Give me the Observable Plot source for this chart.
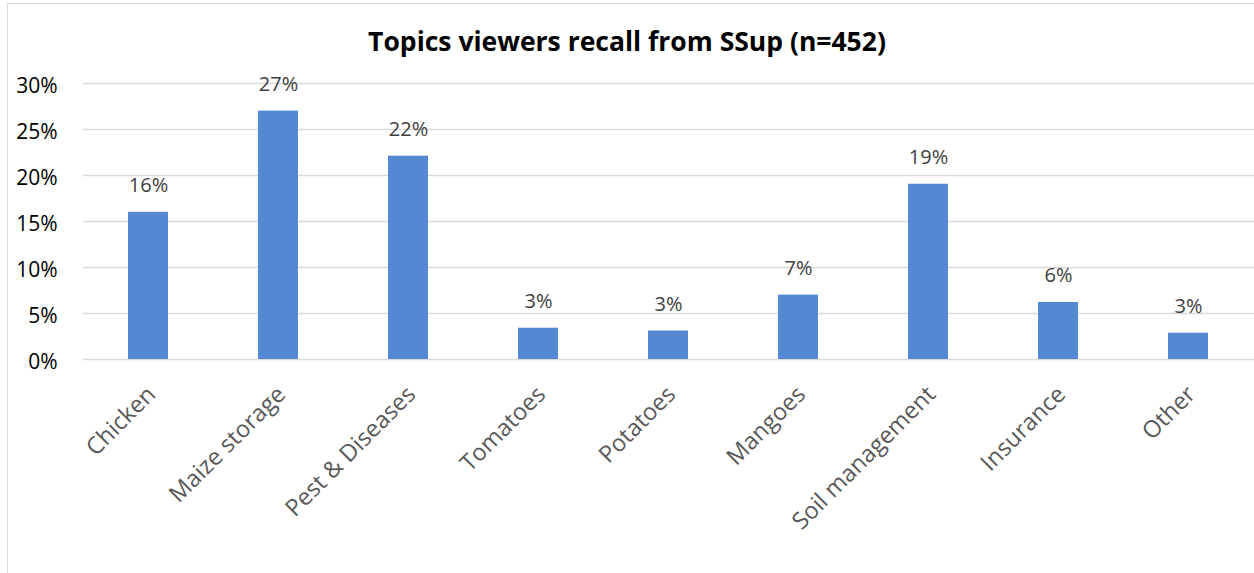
<!DOCTYPE html>
<html>
<head>
<meta charset="utf-8">
<script src="https://cdn.jsdelivr.net/npm/d3@7"></script>
<script src="https://cdn.jsdelivr.net/npm/@observablehq/plot@0.6"></script>
<style>
  html, body { margin: 0; padding: 0; background: #fff; }
  body { width: 1254px; height: 573px; position: relative; overflow: hidden; font-family: "Open Sans", sans-serif; }
  #frame { position: absolute; left: 7px; top: 3px; width: 1300px; height: 600px; border-left: 1px solid #d9d9d9; border-top: 1px solid #d9d9d9; pointer-events: none; }
  #title { position: absolute; left: 0; top: 28px; width: 1254px; height: 27px; line-height: 1; text-align: center; font-weight: 700; font-size: 26.5px; color: #000; white-space: nowrap; }
  #chart { position: absolute; left: 0; top: 70px; }
</style>
</head>
<body>
<div id="frame"></div>
<div id="title">Topics viewers recall from SSup (n=452)</div>
<div id="chart"></div>
<script>
const categories = ["Chicken", "Maize storage", "Pest & Diseases", "Tomatoes", "Potatoes", "Mangoes", "Soil management", "Insurance", "Other"];
const values = [16.0, 27.0, 22.1, 3.4, 3.1, 7.0, 19.05, 6.2, 2.86];
const yTicks = [0, 5, 10, 15, 20, 25, 30];

const data = categories.map((c, i) => ({category: c, value: values[i], label: Math.round(values[i]) + "%"}));

const chart = Plot.plot({
  width: 1254,
  height: 503,
  marginLeft: 83,
  marginRight: 0,
  marginTop: 13,
  marginBottom: 214,
  style: {fontFamily: "'Open Sans', sans-serif", background: "transparent"},
  x: {domain: categories, paddingInner: 0.69, paddingOuter: 0.345, label: null, axis: null},
  y: {domain: [0, 30], label: null, axis: null},
  marks: [
    Plot.gridY(yTicks, {stroke: "#d9d9d9", strokeOpacity: 1, strokeWidth: 1.5}),
    Plot.barY(data, {x: "category", y: "value", fill: "#5588d3"}),
    Plot.text(data, {x: "category", y: "value", text: "label", dy: -20, lineAnchor: "bottom", fontSize: 20, fill: "#404040"}),
    Plot.axisY(yTicks, {tickSize: 0, tickPadding: 26, dy: 3, fontSize: 21, fill: "#000", tickFormat: d => d + "%", label: null}),
    Plot.text(data, {x: "category", y: () => 0, text: "category", rotate: -45, textAnchor: "end", lineAnchor: "middle", dx: 3, dy: 31, fontSize: 23.5, fill: "#595959"})
  ]
});
document.getElementById("chart").appendChild(chart);
</script>
</body>
</html>
